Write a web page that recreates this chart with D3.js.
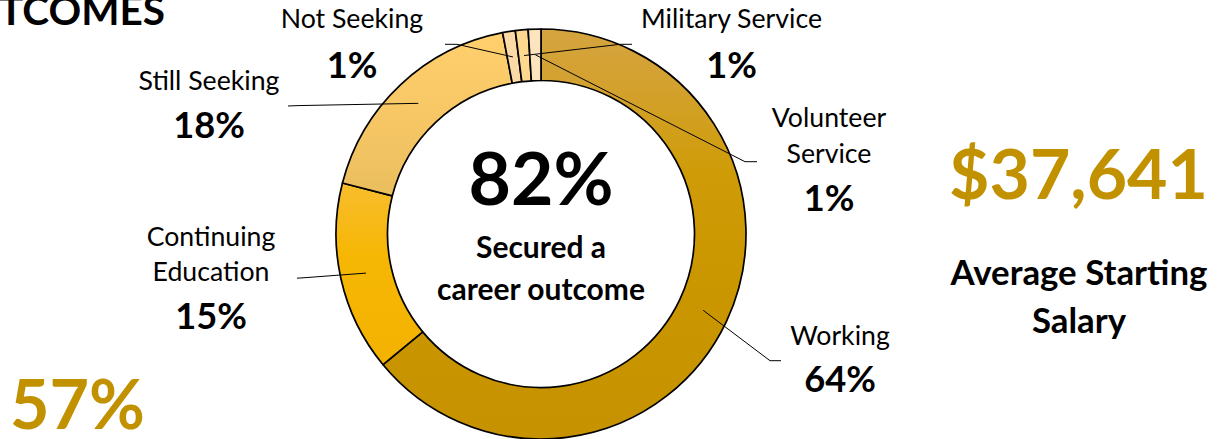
<!DOCTYPE html>
<html>
<head>
<meta charset="utf-8">
<script src="https://cdn.jsdelivr.net/npm/d3@7"></script>
<style>
  html, body { margin: 0; padding: 0; background: #ffffff; }
  svg { display: block; }
  text { font-family: Lato, "Open Sans", "DejaVu Sans", sans-serif; }
</style>
</head>
<body>
<svg id="chart" width="1222" height="439"></svg>
<script>
// ---------- data ----------
const categories = ["Working", "Continuing Education", "Still Seeking", "Not Seeking", "Military Service", "Volunteer Service"];
const values = [64, 15, 18, 1, 1, 1];
const labelLines = [["Working"], ["Continuing", "Education"], ["Still Seeking"], ["Not Seeking"], ["Military Service"], ["Volunteer", "Service"]];
const centerValue = "82%";
const centerLines = ["Secured a", "career outcome"];
const sideStat = "57%";
const salaryValue = "$37,641";
const salaryLines = ["Average Starting", "Salary"];
const titleText = "TCOMES";

// ---------- layout / style ----------
const W = 1222, H = 439;
const cx = 541, cy = 234, rOuter = 205, rInner = 153.5;
const gold = "#C29100";

// label placement per category (same order as categories)
const labelLayout = [
  { x: 840, lines: [345], pct: 392, elbow: [770, 360.7], end: [781, 360.7] },
  { x: 211, lines: [246, 281], pct: 329, elbow: [306, 277.6], end: [297, 278.2] },
  { x: 209, lines: [90], pct: 137.7, elbow: [298, 105.6], end: [288, 106] },
  { x: 352, lines: [28], pct: 78, elbow: [457, 44.3], end: [445, 44.3] },
  { x: 731.5, lines: [28], pct: 78, elbow: [620, 44.3], end: [632, 44.3] },
  { x: 829, lines: [127.3, 163], pct: 210.7, elbow: [745, 161.7], end: [757, 161.7] }
];

const svg = d3.select("#chart");
const defs = svg.append("defs");

// gradient in page coordinates, converted to the donut group's local space
function vGrad(id, y1, y2, stops) {
  const g = defs.append("linearGradient").attr("id", id)
    .attr("gradientUnits", "userSpaceOnUse")
    .attr("x1", 0).attr("x2", 0).attr("y1", y1 - cy).attr("y2", y2 - cy);
  stops.forEach(s => g.append("stop").attr("offset", s[0]).attr("stop-color", s[1]));
  return `url(#${id})`;
}

const fills = [
  vGrad("gWork", cy - rOuter, cy + rOuter, [[0, "#D5A440"], [0.15, "#D3A12C"], [0.35, "#CF9C08"], [0.6, "#CA9700"], [1, "#C69200"]]),
  vGrad("gCont", 180, 370, [[0, "#F8BD30"], [0.4, "#F6B704"], [1, "#F4B200"]]),
  vGrad("gSeek", 40, 185, [[0, "#FFCF6E"], [0.6, "#F6C665"], [1, "#ECBF5E"]]),
  "#FBDAA8",
  "#FFD890",
  "#FCE4BF"
];

const pie = d3.pie().sort(null).value(d => d);
const arcs = pie(values);
const arc = d3.arc().innerRadius(rInner).outerRadius(rOuter);

const g = svg.append("g").attr("transform", `translate(${cx},${cy})`);

g.selectAll("path.slice").data(arcs).join("path")
  .attr("class", "slice")
  .attr("d", arc)
  .attr("fill", (d, i) => fills[i])
  .attr("stroke", "#000")
  .attr("stroke-width", 1.7)
  .attr("stroke-linejoin", "round");

// leader lines
const line = d3.line();
arcs.forEach((d, i) => {
  const c = arc.centroid(d);
  const L = labelLayout[i];
  const pts = [[c[0] + cx, c[1] + cy], L.elbow, L.end];
  svg.append("path")
    .attr("d", line(pts))
    .attr("fill", "none")
    .attr("stroke", "#000")
    .attr("stroke-width", 1);
});

// helper: fit font size to target width
function fitSize(txt, weight, targetW) {
  const t = svg.append("text").attr("font-size", 100).attr("font-weight", weight).text(txt);
  const w = t.node().getComputedTextLength();
  t.remove();
  return 100 * targetW / w;
}

const regSize = fitSize("Still Seeking", 400, 141);
const pctSize = fitSize("18%", 700, 71.7);

// labels
arcs.forEach((d, i) => {
  const L = labelLayout[i];
  labelLines[i].forEach((ln, j) => {
    svg.append("text")
      .attr("x", L.x).attr("y", L.lines[j])
      .attr("text-anchor", "middle")
      .attr("font-size", regSize)
      .attr("fill", "#000")
      .text(ln);
  });
  svg.append("text")
    .attr("x", L.x).attr("y", L.pct)
    .attr("text-anchor", "middle")
    .attr("font-size", pctSize)
    .attr("font-weight", 700)
    .attr("fill", "#000")
    .text(d3.format(".0%")(d.data / d3.sum(values)));
});

// center text
svg.append("text")
  .attr("x", cx).attr("y", 205)
  .attr("text-anchor", "middle")
  .attr("font-size", fitSize(centerValue, 700, 145))
  .attr("font-weight", 700)
  .text(centerValue);
const cSize = fitSize(centerLines[1], 700, 208);
[258.3, 300].forEach((y, j) => {
  svg.append("text")
    .attr("x", cx).attr("y", y)
    .attr("text-anchor", "middle")
    .attr("font-size", cSize)
    .attr("font-weight", 700)
    .text(centerLines[j]);
});

// title fragment
svg.append("text")
  .attr("x", 165).attr("y", 25)
  .attr("text-anchor", "end")
  .attr("font-size", fitSize(titleText, 700, 166))
  .attr("font-weight", 700)
  .text(titleText);

// side stat
svg.append("text")
  .attr("x", 10).attr("y", 429)
  .attr("font-size", fitSize(sideStat, 700, 135))
  .attr("font-weight", 700)
  .attr("fill", gold)
  .text(sideStat);

// salary
svg.append("text")
  .attr("x", 1078.5).attr("y", 199)
  .attr("text-anchor", "middle")
  .attr("font-size", fitSize(salaryValue, 700, 259))
  .attr("font-weight", 700)
  .attr("fill", gold)
  .text(salaryValue);
const sSize = fitSize(salaryLines[0], 700, 257);
[285, 333].forEach((y, j) => {
  svg.append("text")
    .attr("x", 1079).attr("y", y)
    .attr("text-anchor", "middle")
    .attr("font-size", sSize)
    .attr("font-weight", 700)
    .text(salaryLines[j]);
});
</script>
</body>
</html>
